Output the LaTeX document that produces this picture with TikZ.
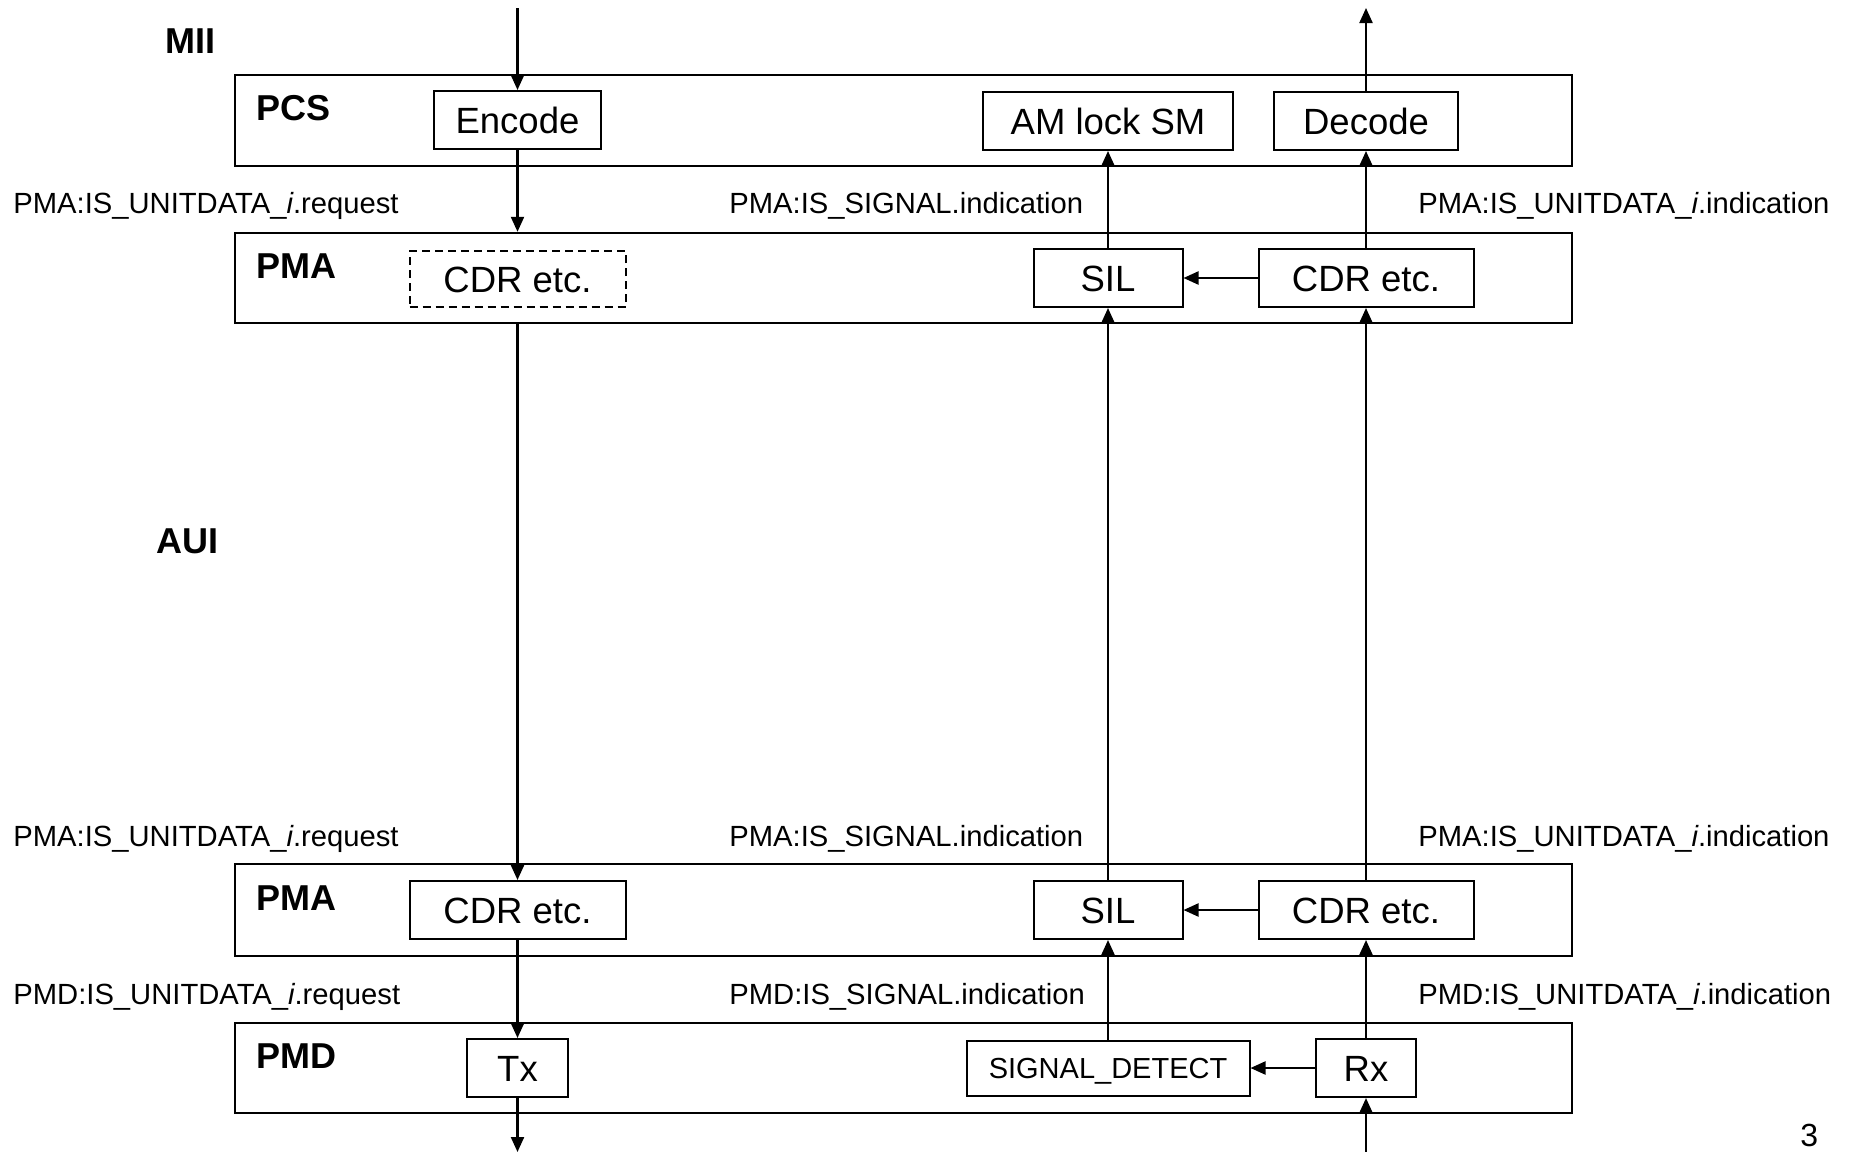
\documentclass[tikz,border=0pt]{standalone}
\usepackage{fontspec}
\setmainfont{Liberation Sans}
\usetikzlibrary{arrows.meta,fit}

\begin{document}
\begin{tikzpicture}[x=0.5pt, y=-0.5pt, >={Triangle[length=7.5pt,width=6.5pt]},
  layer/.style={draw, line width=1.2pt, inner sep=0pt},
  blk/.style={draw, line width=1pt, inner sep=0pt, minimum height=29pt,
    text height=13pt, text depth=0pt, font=\fontsize{18.25}{20}\selectfont},
  sap/.style={anchor=base west, inner sep=0pt, font=\fontsize{14.6}{17}\selectfont},
  tag/.style={anchor=base west, inner sep=0pt, font=\fontsize{18}{20}\selectfont\bfseries},
  flow/.style={->, line width=1.1pt}]
  \useasboundingbox (0,0) rectangle (1849,1152);
  % ------- sublayer frames -------
  \foreach \n/\t/\b in {pcs/75/166, pmaT/233/323, pmaB/864/956, pmd/1023/1113}
    \node[layer, fit={(235,\t) (1572,\b)}] (\n) {};
  \node[tag] (tMII) at (165,53) {MII};
  \node[tag] (tAUI) at (156,553) {AUI};
  \node[tag] (tPCS) at (256,120) {PCS};
  \node[tag] (tPMAT) at (256,278) {PMA};
  \node[tag] (tPMAB) at (256,910) {PMA};
  \node[tag] (tPMD) at (256,1068) {PMD};
  % ------- blocks -------
  \node[blk, minimum width=83.5pt] (encode) at (517.5,120) {Encode};
  \node[blk, minimum width=125pt] (amlock) at (1108,121) {AM lock SM};
  \node[blk, minimum width=92pt] (decode) at (1366,121) {Decode};
  \node[blk, dash pattern=on 4pt off 2.5pt, minimum width=108pt, minimum height=28pt] (cdrT) at (517.5,279) {CDR etc.};
  \node[blk, minimum width=74.5pt] (silT) at (1108,278) {SIL};
  \node[blk, minimum width=107.5pt] (cdrTR) at (1366,278) {CDR etc.};
  \node[blk, minimum width=108pt] (cdrB) at (517.5,910) {CDR etc.};
  \node[blk, minimum width=74.5pt] (silB) at (1108,910) {SIL};
  \node[blk, minimum width=107.5pt] (cdrBR) at (1366,910) {CDR etc.};
  \node[blk, minimum width=50.5pt] (tx) at (517.5,1068) {Tx};
  \node[blk, minimum width=141.5pt, minimum height=27.5pt, text height=10.4pt,
    font=\fontsize{14.5}{17}\selectfont] (sigdet) at (1108,1068) {SIGNAL\_DETECT};
  \node[blk, minimum width=50pt] (rx) at (1366,1068) {Rx};
  % ------- service primitives -------
  \node[sap] (reqT) at (13,213) {PMA:IS\_UNITDATA\_\textit{i}.request};
  \node[sap] (sigT) at (729,213) {PMA:IS\_SIGNAL.indication};
  \node[sap] (indT) at (1418,213) {PMA:IS\_UNITDATA\_\textit{i}.indication};
  \node[sap] (reqB) at (13,846) {PMA:IS\_UNITDATA\_\textit{i}.request};
  \node[sap] (sigB) at (729,846) {PMA:IS\_SIGNAL.indication};
  \node[sap] (indB) at (1418,846) {PMA:IS\_UNITDATA\_\textit{i}.indication};
  \node[sap] (reqD) at (13,1004) {PMD:IS\_UNITDATA\_\textit{i}.request};
  \node[sap] (sigD) at (729,1004) {PMD:IS\_SIGNAL.indication};
  \node[sap] (indD) at (1418,1004) {PMD:IS\_UNITDATA\_\textit{i}.indication};
  \node[anchor=base west, inner sep=0pt, font=\fontsize{16}{18}\selectfont] (pgno) at (1800,1146) {3};
  % ------- transmit path (down) -------
  \coordinate (miiIn) at (517.5,8);
  \coordinate (mdiOut) at (517.5,1152);
  \draw[flow] (miiIn) -- (encode.north);
  \draw[flow] (encode.south) -- (encode.south |- pmaT.north);
  \draw[flow] (encode.south |- pmaT.south) -- (cdrB.north);
  \draw[flow] (cdrB.south) -- (tx.north);
  \draw[flow] (tx.south) -- (mdiOut);
  % ------- receive path (up) -------
  \coordinate (mdiIn) at (1366,1152);
  \coordinate (miiOut) at (1366,8);
  \draw[flow] (mdiIn) -- (rx.south);
  \draw[flow] (rx.west) -- (sigdet.east);
  \draw[flow] (rx.north) -- (cdrBR.south);
  \draw[flow] (sigdet.north) -- (silB.south);
  \draw[flow] (cdrBR.west) -- (silB.east);
  \draw[flow] (cdrBR.north) -- (cdrTR.south);
  \draw[flow] (silB.north) -- (silT.south);
  \draw[flow] (cdrTR.west) -- (silT.east);
  \draw[flow] (silT.north) -- (amlock.south);
  \draw[flow] (cdrTR.north) -- (decode.south);
  \draw[flow] (decode.north) -- (miiOut);
\end{tikzpicture}
\end{document}
